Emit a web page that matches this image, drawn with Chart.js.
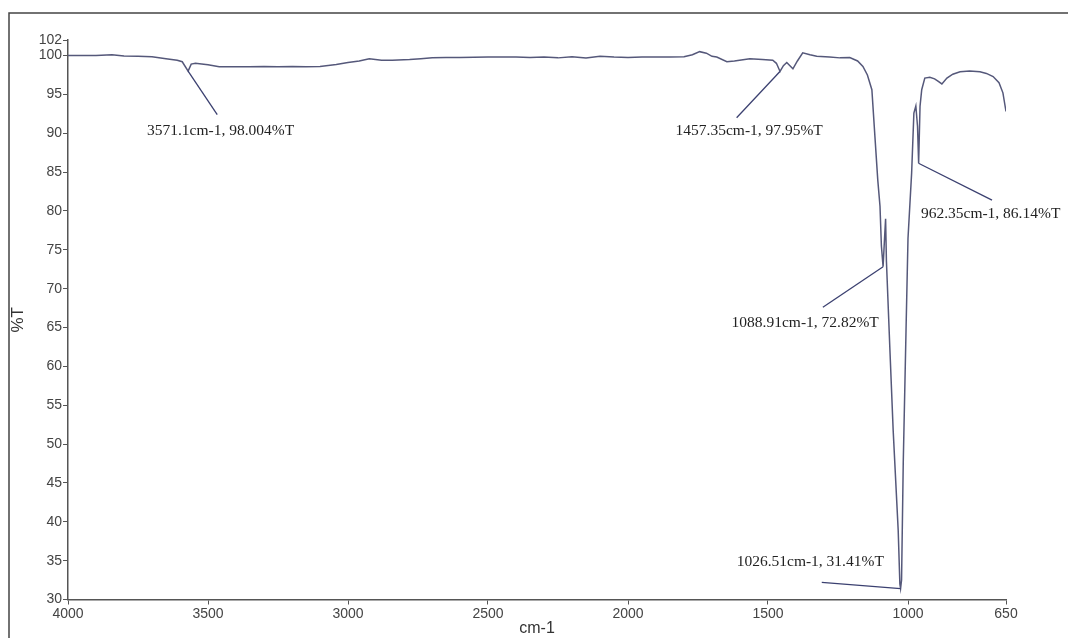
<!DOCTYPE html>
<html>
<head>
<meta charset="utf-8">
<script src="https://cdn.jsdelivr.net/npm/chart.js@4/dist/chart.umd.min.js"></script>
<style>
  html, body { margin: 0; padding: 0; background: #fff; }
  #wrap { width: 1068px; height: 638px; position: relative; }
</style>
</head>
<body>
<div id="wrap"><canvas id="ftirChart"></canvas></div>
<script>
// ===== DATI SPETTRO =====
const wavenumbers = [
  4000, 3900, 3843, 3800, 3750, 3700, 3650, 3610, 3592, 3571, 3560, 3545,
  3500, 3460, 3400, 3353, 3300, 3250, 3199, 3150, 3100, 3042, 3000, 2960,
  2924, 2880, 2842, 2780, 2740, 2699, 2650, 2600, 2500, 2400, 2350, 2300,
  2250, 2200, 2150, 2100, 2050, 2000, 1950, 1900, 1850, 1800, 1770, 1744,
  1720, 1700, 1683, 1647, 1620, 1565, 1520, 1483, 1470, 1457, 1445, 1433,
  1411, 1395, 1376, 1350, 1326, 1280, 1243, 1208, 1180, 1161, 1145, 1129,
  1118, 1108, 1100, 1095, 1089, 1083, 1080, 1077, 1065, 1053, 1035, 1029,
  1026.5, 1023, 1017, 1007, 1000, 987, 979, 972, 966, 962, 957, 951,
  940, 922, 905, 893, 879, 861, 840, 814, 780, 743, 720, 696,
  675, 661, 650
];
const transmittance = [
  100.0, 100.0, 100.1, 99.95, 99.9, 99.85, 99.6, 99.4, 99.2, 98.0, 98.9, 99.0,
  98.8, 98.55, 98.55, 98.55, 98.6, 98.55, 98.6, 98.55, 98.6, 98.85, 99.1, 99.3,
  99.6, 99.4, 99.4, 99.5, 99.6, 99.7, 99.75, 99.75, 99.8, 99.8, 99.75, 99.8,
  99.7, 99.85, 99.7, 99.9, 99.8, 99.75, 99.8, 99.8, 99.8, 99.85, 100.1, 100.5,
  100.3, 99.9, 99.8, 99.2, 99.3, 99.6, 99.5, 99.4, 99.0, 97.95, 98.7, 99.1,
  98.3, 99.3, 100.35, 100.1, 99.9, 99.8, 99.7, 99.75, 99.3, 98.6, 97.5, 95.6,
  89.5, 84.0, 80.6, 75.5, 72.82, 77.0, 79.0, 73.5, 62.5, 51.8, 38.9, 32.0,
  31.41, 32.5, 47.5, 64.7, 76.5, 84.9, 92.6, 93.5, 90.9, 86.14, 93.5, 95.6,
  97.1, 97.2, 97.0, 96.7, 96.35, 97.1, 97.6, 97.9, 98.0, 97.9, 97.7, 97.3,
  96.5, 95.2, 92.8
];

// tick degli assi
const xTicks = [4000, 3500, 3000, 2500, 2000, 1500, 1000, 650];
const yTicks = [30, 35, 40, 45, 50, 55, 60, 65, 70, 75, 80, 85, 90, 95, 100, 102];

// picchi annotati
const peakLabels = [
  "3571.1cm-1, 98.004%T",
  "1457.35cm-1, 97.95%T",
  "962.35cm-1, 86.14%T",
  "1088.91cm-1, 72.82%T",
  "1026.51cm-1, 31.41%T"
];
const peakWn = [3571.1, 1457.35, 962.35, 1088.91, 1026.51];
const peakT = [98.004, 97.95, 86.14, 72.82, 31.41];

// posizione etichette (in coordinate dati): fine linea + testo
const labelSpots = [
  { lineWn: 3467, lineT: 92.4, textWn: 3718, textT: 90.3 },
  { lineWn: 1612, lineT: 92.0, textWn: 1830, textT: 90.3 },
  { lineWn: 700,  lineT: 81.4, textWn: 954,  textT: 79.6 },
  { lineWn: 1304, lineT: 67.6, textWn: 1630, textT: 65.6 },
  { lineWn: 1308, lineT: 32.2, textWn: 1612, textT: 34.9 }
];

// ===== PLUGIN: cornice + annotazioni =====
const framePlugin = {
  id: "frame",
  beforeDraw(chart) {
    const ctx = chart.ctx;
    ctx.save();
    ctx.strokeStyle = "#444";
    ctx.lineWidth = 1.5;
    ctx.beginPath();
    ctx.moveTo(9, 638);
    ctx.lineTo(9, 13);
    ctx.lineTo(1068, 13);
    ctx.stroke();
    ctx.restore();
  }
};

const peakPlugin = {
  id: "peaks",
  afterDatasetsDraw(chart) {
    const { ctx, scales } = chart;
    const sx = scales.x, sy = scales.y;
    ctx.save();
    peakLabels.forEach((txt, i) => {
      const spot = labelSpots[i];
      const px = sx.getPixelForValue(peakWn[i]);
      const py = sy.getPixelForValue(peakT[i]);
      ctx.strokeStyle = "#3b4070";
      ctx.lineWidth = 1.3;
      ctx.beginPath();
      ctx.moveTo(px, py);
      ctx.lineTo(sx.getPixelForValue(spot.lineWn), sy.getPixelForValue(spot.lineT));
      ctx.stroke();

      ctx.fillStyle = "#222";
      ctx.font = '15.5px "Liberation Serif", "Times New Roman", serif';
      ctx.textAlign = "left";
      ctx.textBaseline = "middle";
      ctx.fillText(txt, sx.getPixelForValue(spot.textWn), sy.getPixelForValue(spot.textT));
    });
    ctx.restore();
  }
};

// ===== GRAFICO =====
const tickFont = { family: '"Liberation Sans", Arial, sans-serif', size: 14 };

new Chart(document.getElementById("ftirChart"), {
  type: "line",
  data: {
    datasets: [
      {
        data: wavenumbers.map((w, i) => ({ x: w, y: transmittance[i] })),
        borderColor: "#55587a",
        borderWidth: 1.5,
        pointRadius: 0,
        tension: 0,
        fill: false
      }
    ]
  },
  options: {
    responsive: true,
    maintainAspectRatio: false,
    animation: false,
    layout: { padding: { left: 8, right: 62, top: 40, bottom: 0 } },
    plugins: {
      legend: { display: false },
      tooltip: { enabled: false }
    },
    scales: {
      x: {
        type: "linear",
        reverse: true,
        min: 650,
        max: 4000,
        afterBuildTicks: (axis) => {
          axis.ticks = xTicks.map((v) => ({ value: v }));
        },
        afterFit: (axis) => { axis.height = 38.5; },
        ticks: {
          color: "#444",
          font: tickFont,
          padding: 1,
          maxRotation: 0,
          autoSkip: false,
          callback: (v) => String(v)
        },
        grid: { drawOnChartArea: false, drawTicks: true, tickLength: 5, color: "#555" },
        border: { display: true, color: "#555", width: 1.5 },
        title: {
          display: true,
          text: "cm-1",
          color: "#333",
          font: { family: '"Liberation Sans", Arial, sans-serif', size: 16 },
          padding: 0
        }
      },
      y: {
        min: 30,
        max: 102,
        afterBuildTicks: (axis) => {
          axis.ticks = yTicks.map((v) => ({ value: v }));
        },
        afterFit: (axis) => { axis.width = 60; },
        ticks: { color: "#444", font: tickFont, padding: 1, autoSkip: false, callback: (v) => String(v) },
        grid: { drawOnChartArea: false, drawTicks: true, tickLength: 5, color: "#555" },
        border: { display: true, color: "#555", width: 1.5 },
        title: {
          display: true,
          text: "%T",
          color: "#333",
          font: { family: '"Liberation Sans", Arial, sans-serif', size: 17 },
          padding: 0
        }
      }
    }
  },
  plugins: [framePlugin, peakPlugin]
});
</script>
</body>
</html>
